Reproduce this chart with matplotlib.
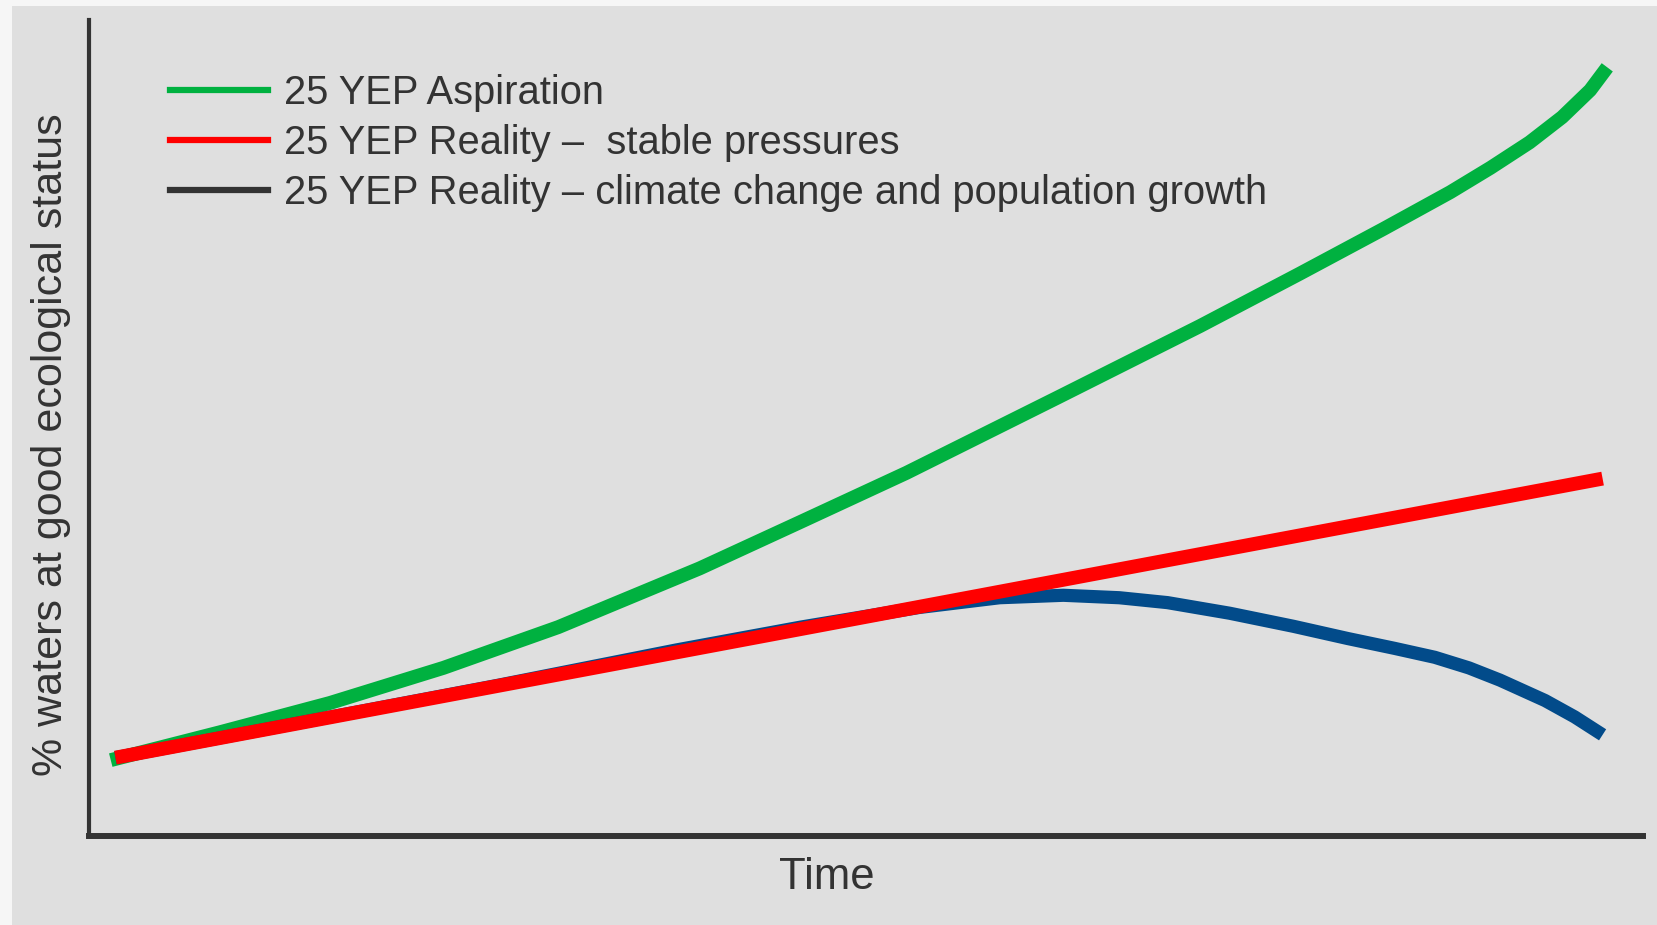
#!/usr/bin/env python3
# Conceptual chart: % waters at good ecological status over time (25 YEP scenarios)

import matplotlib
matplotlib.use("Agg")
import matplotlib.pyplot as plt
from matplotlib.lines import Line2D
from matplotlib.patches import Rectangle

plt.rcParams['font.family'] = ['Liberation Sans', 'DejaVu Sans']

# Series values (time and % on a 0-100 scale)
aspiration_x = [1.4, 8.4, 15.5, 22.8, 30.2, 39.3, 45.8, 52.6, 62.4, 71.5,
                77.9, 83.3, 87.6, 90.2, 92.7, 94.8, 96.6, 97.7]
aspiration_y = [9.3, 12.7, 16.3, 20.6, 25.6, 32.8, 38.5, 44.5, 53.8, 62.5,
                68.9, 74.4, 78.9, 81.9, 85.0, 88.1, 91.4, 94.2]

stable_x = [1.7, 97.4]
stable_y = [9.6, 43.8]

climate_x = [1.7, 26.4, 37.8, 45.8, 53.4, 58.6, 62.7, 66.3, 69.4, 73.4, 77.5,
             81.0, 84.0, 86.6, 88.8, 90.8, 93.7, 95.6, 97.4]
climate_y = [9.6, 18.5, 22.8, 25.6, 28.0, 29.2, 29.5, 29.2, 28.6, 27.3, 25.7,
             24.2, 23.0, 21.9, 20.6, 19.1, 16.6, 14.6, 12.4]

labels = ["25 YEP Aspiration",
          "25 YEP Reality \u2013  stable pressures",
          "25 YEP Reality \u2013 climate change and population growth"]

GREEN = "#00b140"
RED = "#ff0000"
BLUE = "#024b8a"
INK = "#333333"
BG = "#dfdfdf"

W, H = 1657, 925
fig = plt.figure(figsize=(W / 100, H / 100), dpi=100, facecolor=BG)

# light frame strips at the top and left edge
fig.patches.append(Rectangle((0, 1 - 6 / H), 1, 6 / H, transform=fig.transFigure,
                             facecolor="#f6f6f6", edgecolor="none"))
fig.patches.append(Rectangle((0, 0), 12 / W, 1, transform=fig.transFigure,
                             facecolor="#f6f6f6", edgecolor="none"))

ax = fig.add_axes([89 / W, (H - 836) / H, (1643 - 89) / W, (836 - 20) / H])
ax.set_facecolor(BG)
ax.set_xlim(0, 100)
ax.set_ylim(0, 100)

ax.plot(aspiration_x, aspiration_y, color=GREEN, lw=10, solid_capstyle="butt",
        solid_joinstyle="round")
ax.plot(climate_x, climate_y, color=BLUE, lw=9.5, solid_capstyle="butt",
        solid_joinstyle="round")
ax.plot(stable_x, stable_y, color=RED, lw=10, solid_capstyle="butt")

for side in ["top", "right"]:
    ax.spines[side].set_visible(False)
ax.spines["left"].set_color(INK)
ax.spines["left"].set_linewidth(3)
ax.spines["bottom"].set_color(INK)
ax.spines["bottom"].set_linewidth(4.3)
ax.set_xticks([])
ax.set_yticks([])

ax.set_xlabel("Time", fontsize=31.5, color=INK)
ax.xaxis.set_label_coords(0.475, -0.026)
ax.set_ylabel("% waters at good ecological status", fontsize=31, color=INK)
ax.yaxis.set_label_coords(-0.0116, 0.48)

handles = [Line2D([], [], color=GREEN, lw=4.5),
           Line2D([], [], color=RED, lw=4.5),
           Line2D([], [], color=INK, lw=4.5)]
ax.legend(handles, labels, loc="upper left", bbox_to_anchor=(0.042, 0.953),
          frameon=False, fontsize=28.7, labelcolor=INK, handlelength=2.45,
          handletextpad=0.4, labelspacing=0.3, borderaxespad=0)

fig.savefig("out.png", dpi=100, facecolor=BG)
